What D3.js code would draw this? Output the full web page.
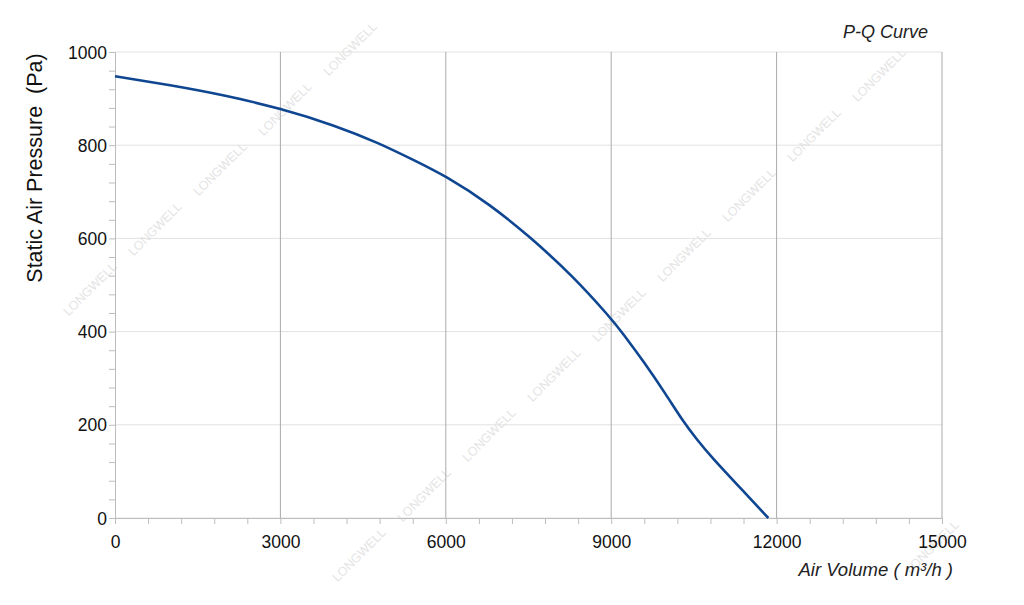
<!DOCTYPE html>
<html><head><meta charset="utf-8">
<script src="https://cdn.jsdelivr.net/npm/d3@7"></script>
<style>body{margin:0;background:#fff}svg{display:block}text{font-family:"Liberation Sans",Arial,sans-serif}</style>
</head><body>
<svg id="c" width="1024" height="605"></svg>
<script>
const airVolume = [0, 1000, 2000, 3000, 4000, 4800, 5400, 6000, 6800, 7500, 8300, 9000, 9200, 9600, 10000, 10300, 10550, 10800, 11400, 11850];
const pressure  = [948, 929, 907, 879, 842, 804, 769, 734, 673, 606, 520, 428, 398, 334, 264, 208, 169, 133, 57, 0];
const xTicks = [0, 3000, 6000, 9000, 12000, 15000];
const yTicks = [0, 200, 400, 600, 800, 1000];
const title = "P-Q Curve";
const xTitle = "Air Volume ( m³/h )";
const yTitle = "Static Air Pressure  (Pa)";
const watermark = "LONGWELL";

const svg = d3.select("#c");
const L = 115, R = 942, T = 52, B = 518;
const x = d3.scaleLinear().domain([0, 15000]).range([L, R]);
const y = d3.scaleLinear().domain([0, 1000]).range([B, T]);

// watermark
const wm = svg.append("g");
const rows = [[288,112],[882,78],[1000,490]];
rows.forEach(([sx, sy]) => {
  for (let k = -10; k <= 10; k++) {
    const px = sx - 65 * k, py = sy + 60 * k;
    if (px < 32 || px > 992 || py < 32 || py > 572) continue;
    wm.append("text").attr("transform", `translate(${px},${py}) rotate(-45)`)
      .attr("text-anchor", "middle").attr("font-size", 12.5).attr("fill", "#e4e4e4")
      .text(watermark);
  }
});

// horizontal grid
svg.append("g").selectAll("line").data(yTicks).join("line")
  .attr("x1", L).attr("x2", R).attr("y1", d => y(d)).attr("y2", d => y(d))
  .attr("stroke", "#e2e2e2").attr("stroke-width", 1);
// vertical grid
svg.append("g").selectAll("line").data(xTicks.slice(1)).join("line")
  .attr("x1", d => x(d)).attr("x2", d => x(d)).attr("y1", T).attr("y2", B)
  .attr("stroke", "#ababab").attr("stroke-width", 1);

// axes
const xAxis = svg.append("g").attr("transform", `translate(0,${B})`)
  .call(d3.axisBottom(x).tickValues(d3.range(0, 15001, 600)).tickSize(6).tickFormat(d => xTicks.includes(d) ? d : ""));
const yAxis = svg.append("g").attr("transform", `translate(${L},0)`)
  .call(d3.axisLeft(y).tickValues(d3.range(0, 1001, 40)).tickSize(6).tickFormat(d => yTicks.includes(d) ? d : ""));
[xAxis, yAxis].forEach(a => {
  a.select(".domain").attr("stroke", "#bdbdbd");
  a.selectAll(".tick line").attr("stroke", "#bdbdbd");
  a.selectAll(".tick text").attr("font-size", 17.5).attr("fill", "#111")
    .style("font-family", '"Liberation Sans",Arial,sans-serif');
});
xAxis.selectAll(".tick text").attr("dy", "1.2em");
yAxis.selectAll(".tick text").attr("x", -8).attr("dy", "0.35em");

// line
const line = d3.line().x((d, i) => x(airVolume[i])).y(d => y(d)).curve(d3.curveBasis);
svg.append("path").datum(pressure).attr("d", line).attr("fill", "none")
  .attr("stroke", "#0f4691").attr("stroke-width", 2.6);

// titles
svg.append("text").attr("x", 928).attr("y", 38).attr("text-anchor", "end")
  .attr("font-size", 18).attr("font-style", "italic").attr("fill", "#222").text(title);
svg.append("text").attr("x", 953).attr("y", 576).attr("text-anchor", "end")
  .attr("font-size", 18.5).attr("font-style", "italic").attr("fill", "#222").text(xTitle);
svg.append("text").attr("transform", "translate(42,168) rotate(-90)").attr("text-anchor", "middle")
  .style("white-space", "pre").attr("font-size", 21.5).attr("fill", "#111").text(yTitle);
</script>
</body></html>
